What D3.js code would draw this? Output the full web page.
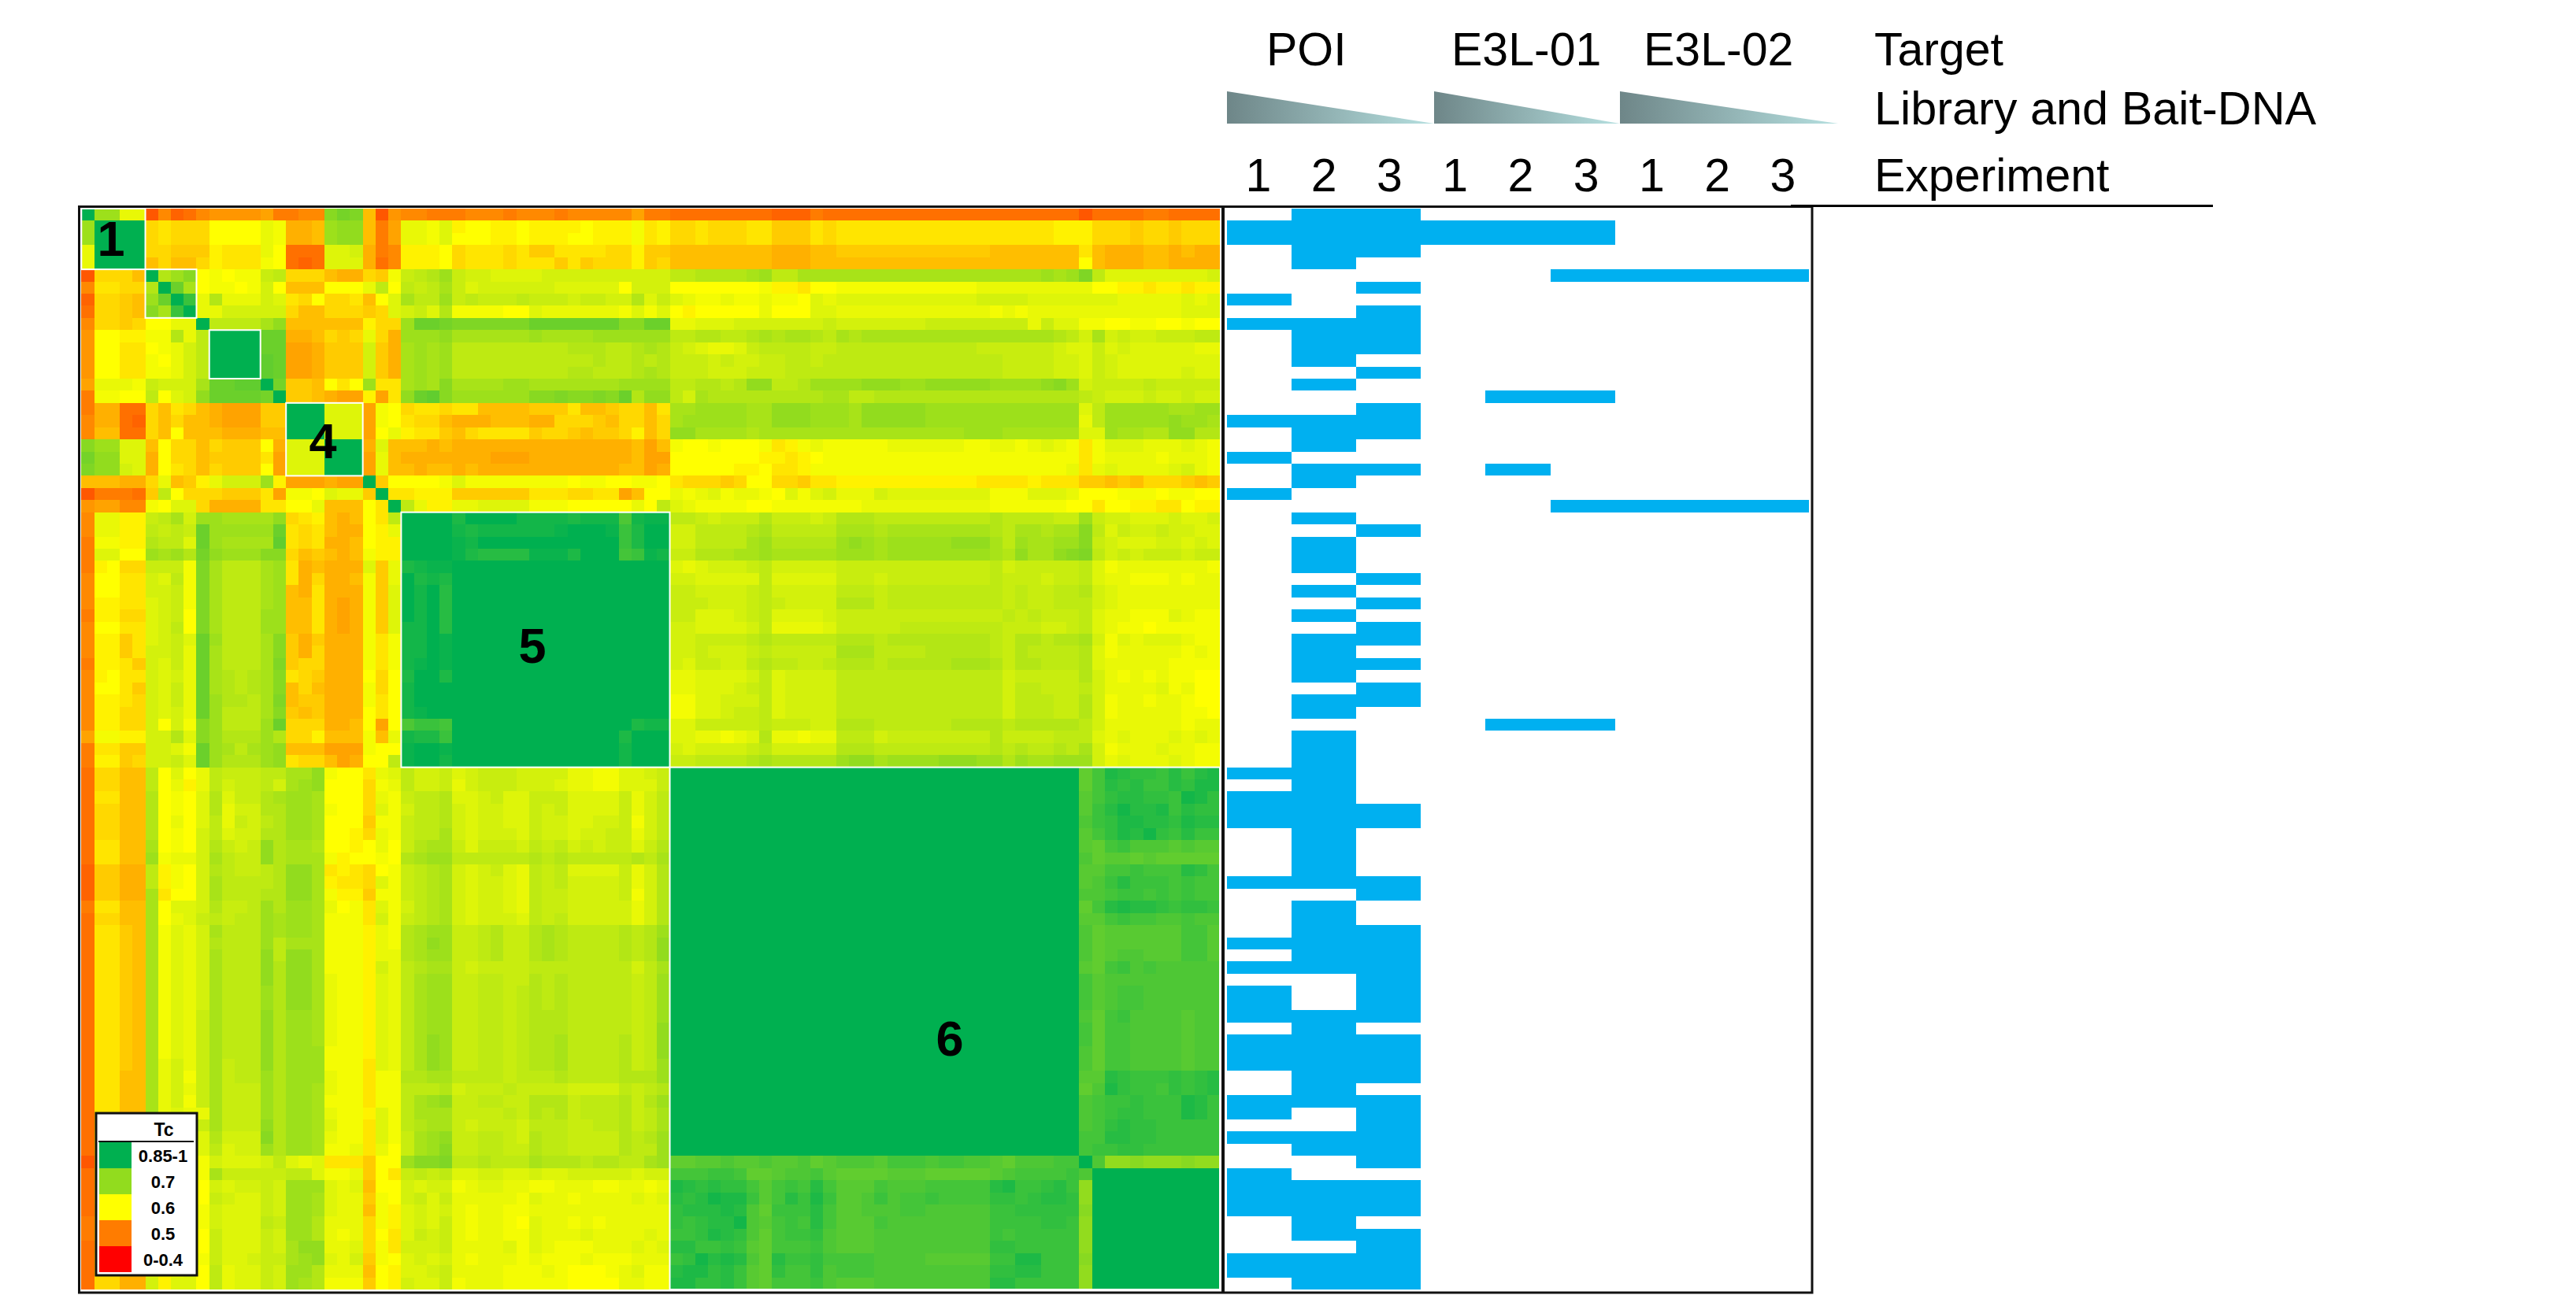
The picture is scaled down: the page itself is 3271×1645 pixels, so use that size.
<!DOCTYPE html>
<html lang="en">
<head>
    <meta charset="UTF-8">
    <script src="https://d3js.org/d3.v7.min.js"></script>
    <title>Tc heatmap with target hits</title>
    <style>
        html, body { margin: 0; padding: 0; background: #fff; }
        svg { display: block; }
        text { font-family: "Liberation Sans", Arial, sans-serif; fill: #000; }
    </style>
</head>
<body>
    <svg width="3271" height="1645"></svg>

    <script>
    // Tc values, one letter per cell, upper triangle only (the matrix is symmetric).
    // a = 0.45, b = 0.46 ... z = 0.70, A = 0.71 ... O = 0.85 and up
    const tcLetters = "abcdefghijklmnopqrstuvwxyzABCDEFGHIJKLMNO";

    // rows 0-45, each one starts on the diagonal, spaces only group the clusters
    const tcRows = [
        "Oyyrr cgde g hhhh if fgg ACB kch ggfffgg gfgggfg ggggiff eeeeeeee dddfeeee eeeeeeee eeeeeeee c eeeeffeeee",
        "OOOO mnmm m pppp rq jjkyzz kfi rrqsopp oopoooo poooqno mmnmmmnn lllnmnnn nnnnnnnn nnnnnnoo o mmmlmmlmmm",
        "OOO mnmm m pppp rq jjkyzz kfi rrqsppp oopooop poooqno mmnmmmnn lllnmnnn nnnnnnnn nnnnnnoo o mmmlmmlmmm",
        "OO mmll l onnn rp eeesst jfg ooopmnn nmnllnn nnmmoll kkkkkkkk jjjkklll llllllll lkkkkkkk n kjjjkkjkjj",
        "O kmkk m onnn qp edesss jeg ooopmnn nmnnnln lmmmolm kkkkkkkk jjjkkkkk kkkkkkkk kkkkkkkk p kjjjkkjjjj",
        "OwyA p qpqq uv mmmkjj mlq uvwyutt ssssttt ttttttt vvwwwwxy vvxxxxxx xxxxxxxx xxxxxyxy B vsssssssst",
        "ODx p qqpq tp kkkppp rvp vuvxust tttttss ssspttt pppppppq oonppqqq qqqqqqqq rrrrrrrr r ppoonoonoo",
        "OI r wrrr ts nmpmmn kps xvvyuvu uuvuuut uuttwsu srqqrqqr qqpsrsss ssssssss ttttssss s ssrrrrrsrs",
        "O r rttt tt mkkmmm lms tuswqqq qppsrrr rrrqsqs popppppr pppssrrr rrrrrrrr rqrqrrrr r rrrrrrrsss",
        "O vvvv xz kkkkkk omm yDDCBBB BBBDDDD DDDAADD rrsssttt ttttuttt ttttuuuu uuuuruss q qppqqppqpp",
        "OOOO DD jjkmlm rmj yyyzxxx xxxyxxx xyyyyyy vvwwvvwx wxxwvxwx xxxxxxxx xxxxxxwv t xtuttuuuvv",
        "OOO DD iijlll tlj xyxyvvv vvvvvvw wwvvwxw utsrrsuv vvvuuvvv vvvvvvvv uuuuuuts s ustsssssrr",
        "OO ED iijlll tlj xyxyvvv vvvvvvv vwvvwvw uuututtu uvvuvvvv vvvvvvvv vvuuuutt s utssssssss",
        "O ED iijlll tlj xyxyvvv vvvvvvw wvvvwxw uuutttuu uvvvvvvv vvvvvvvv vvuuuutt s utssssstss",
        "OC llkpnp ynn xyxAxxx xyyxxxx xxxyyyy vvwwvwzz vvwyyyyz zzyyzzzz zyyyyzAy t uuuuvuuuuu",
        "O llkjii oin zDEAyyy yyyAABA ABADwzz vtxwwwww wwwwxxvv wwwwwwww wwwwwwww v utttuttutt",
        "OOOsss iqp mnnmnnk kkkllln kklmmkn xxyyyyxx zzzyyyxz zzzzyyyy yyyyyyyy s vyyyyyxxyy",
        "OOsss iqp nmmkjjj kkkjjmm mlkmmkm xyyyyyxx zzzyyyxz zzzzyyyy yyyyyyyy r vyyyyyzyyx",
        "Osss ipr onnlkmn nnnlmml kllmokm zzxxxxwx xxxxxxxx xxxxxxxy yyxxxxxx s syxxwwzzww",
        "OOO jsk kkjkjjj jjjjjjj jjjjkik qppqpppq noqrqqqq qrrrrrrq qrrqrsrq n qsssrrrsrq",
        "OO irk jjjjjjj iiijjjj jjjjkii pppppppo onopqqqq qqqqqqqq qqqqqqqq n qrrrrqrrrq",
        "O irk kjkkjkj jjjjjjj jjjkkij pppppoop nnoqqqqq qqqqqqqq qqqqqqqr n rsrrrrstrq",
        "Olp pppqsqq qqqqqqp qqppqqp nmmmlmpp mmlnnooo oooooooo nnnnonnn l lklkmmmlkl",
        "On nooolll lllnnnm mnnikpp rqrsqrrq psqstrrr tsssssss sqqqsssr p ppqqqpqqpp",
        "O vroorrs sssqqqp pppprpv srqqqqpp qqqqqqqr rrrrrrrr rqqqqqqp p nppoonnpoo",
        "OOOOLOO OOMMMML MMMGMNN vvutuuuw uuutuwww vvvvvvvv vwvvvvuu y uttssstsst",
        "OOOMLM MMMMMNO OONILOO ttvvvvwx vvvvvxxx wxxxxxxx xwvxxwxx A vsuttuttss",
        "OONMO OOOOOOO OOOILOO ttvvvvxy wwwwwyzy xyyyyyzz zxvyxxyy A utsssttsts",
        "ONLK KKKNNNL OOOHINM uuwwwxxy xxxxxyyy xyyyyyyy yxwzxxzA B vtutuuutuu",
        "OOO OOOOOOO OOOOOOO srstttuv tttttuuu uuuuuuuu uvtuuuuu v sqrrrrrrrq",
        "OO OOOOOOO OOOOOOO ttsssssv sssssuuu tuuuuuuu uvuuutuu v srrqqqrqrr",
        "O OOOOOOO OOOOOOO uuttttuv tttttvvv uvvvvvvv vvuvuuvv w tsrrrrrrrr",
        "OOOOOOO OOOOOOO uuutttuv uttttwww uvvvvvvv vvuvuuvv v tsrrrrrrrr",
        "OOOOOO OOOOOOO uussstuv sssstuuu uuuuuuuu uuvuvuuu v srrqqqsrqq",
        "OOOOO OOOOOOO ttsssstv rrrrsuuu uuvvvvvv vvuuuttu v srqqpqqqqq",
        "OOOO OOOOOOO ttuuuuvw vvvvvwww vwwwwwww wvuwwvww x tqsrsssrqq",
        "OOO OOOOOOO ttutttuv uuuuuxxx vvvvwwww wvuwvvvv w sqrrrrrqrq",
        "OO OOOOOOO tsuuttvw vvuuvwww vwwwwwxx xwuwwvvv w srrrrrqqqq",
        "O OOOOOOO rrsssstv sttttvvv vvvvvvvv vvtuuuuu w trqrqrqqpp",
        "OOOOOOO rrssstuv sttttvvv vvvvvvvv vvtvvuuu v trrrrsqrpp",
        "OOOOOO qqsstttv sttttvvv vvvvvvvv vvtvvvuu w tqrrqrrqpp",
        "OOOOO qqsstuuv sttttvvv vvvvvvvv vvtvvvuu w tqrrrrrqqp",
        "OLMM ssuuuuuv uuuttwww vvvvvvww wwvwwwww v trrrrrrqrr",
        "OOO ssrrqrsw rrqrrvvv tuuuuuuu uwuuuuvv v srsrrrsrsr",
        "OO tsttttuv tttttwww vvvvvvvv vwvwvvwv x tqrrrsrrqq",
        "O uuvvvvwx wwwwwyzz xyyyyzzz yywyxxyy y trsrrrsrqq"
    ];

    // rows 46-77: the cluster itself is all 0.85+, these are columns 78-88 only
    const tcEdgeRows = [
        "E HLKJJIKIKL", "E HKJKIIKJLL", "F HJKKJJIMLJ", "F IKMKKLIKJJ",
        "G IJLLKKJLKK", "F HJLKMJIKII", "F EHIGGGFGFF", "G EFFEFEEEEE",
        "F FHHIHHHKJH", "F GIKIIIHIHH", "G GHIIHIHIHH", "E HKLKKJIJJI",
        "F FHIHHGGHGG", "G EFFFFFFHHF", "G EFFFFFFHHF", "G EFGGFFFHHF",
        "F EHIGHGGGGG", "H FGGGGGGGGG", "H FGHHGGGGGG", "H FGHHGGGGGG",
        "G EHIGGGGFGG", "H EHHGGGGFGG", "H EHHGGGGFGG", "G EHHGGGGFGG",
        "G EHHGGGGFGG", "F FKJIIIJIJK", "E GLJIIHJIJK", "G HIIJIIILKI",
        "G HIJJIIILKI", "G HJKJJIIIII", "H HKKJJIIIII", "H IIJJIIIIII"
    ];
    const tcRow78 = "O GzzAzzzAzz";

    // clusters that get a white box, first and last row
    const clusterBoxes = [[0, 4], [5, 8], [10, 13], [16, 21], [25, 45], [46, 88]];
    const clusterNames = ["1", "4", "5", "6"];
    const clusterNameSpots = [[141, 325], [410, 582], [676, 842], [1206, 1341]];

    // which rows are hits in each experiment
    const poi1 = [1,2,7,9,17,20,23,46,48,49,50,55,60,62,64,65,66,68,69,70,73,74,76,79,80,81,82,86,87];
    const poi2 = [0,1,2,3,4,9,10,11,12,14,17,18,19,21,22,25,27,28,29,31,33,35,36,37,38,40,41,43,44,45,46,47,48,49,50,51,52,53,54,55,57,58,59,60,61,62,66,67,68,69,70,71,72,73,76,77,80,81,82,83,84,86,87,88];
    const poi3 = [0,1,2,3,6,8,9,10,11,13,16,17,18,21,26,30,32,34,35,37,39,40,49,50,55,56,59,60,61,62,63,64,65,66,68,69,70,71,73,74,75,76,77,78,80,81,82,84,85,86,87,88];
    const e01a = [1,2];
    const e01b = [1,2,15,21,42];
    const e01c = [1,2,5,15,24,42];
    const e02a = [5,24];
    const e02b = [5,24];
    const e02c = [5,24];
    const experiments = [poi1, poi2, poi3, e01a, e01b, e01c, e02a, e02b, e02c];
    const experimentLabels = ["1", "2", "3", "1", "2", "3", "1", "2", "3"];

    const targets = ["POI", "E3L-01", "E3L-02"];
    const targetSpots = [1608, 1843, 2087];

    const legendLabels = ["0.85-1", "0.7", "0.6", "0.5", "0-0.4"];
    const legendColors = ["#00B050", "#92DC1E", "#FFFF00", "#FF7C00", "#FF0000"];

    const nRows = 89;

    function letterToTc(ch) {
        return 0.45 + tcLetters.indexOf(ch) * 0.01;
    }

    const rows = tcRows.map(s => s.replace(/ /g, ""));
    const edge = tcEdgeRows.map(s => s.replace(/ /g, ""));
    const row78 = tcRow78.replace(/ /g, "");
    rows.forEach((s, r) => { if (s.length !== nRows - r) throw new Error("row " + r + " has " + s.length); });

    function tcAt(a, b) {
        const r = Math.min(a, b), c = Math.max(a, b);
        if (r < 46) return letterToTc(rows[r][c - r]);
        if (r < 78) return c < 78 ? 0.85 : letterToTc(edge[r - 46][c - 78]);
        if (r === 78) return letterToTc(row78[c - 78]);
        return 0.85;
    }

    const cells = [];
    d3.range(nRows).forEach(r => d3.range(nRows).forEach(c => cells.push({ r: r, c: c, tc: tcAt(r, c) })));

    const svg = d3.select("svg");

    // scales
    const xCell = d3.scaleBand().domain(d3.range(nRows)).range([103.3, 1549]);
    const yCell = d3.scaleBand().domain(d3.range(nRows)).range([265, 1638]);
    const xHit = d3.scaleBand().domain(d3.range(9)).range([1558, 2297]);
    const xExp = d3.scalePoint().domain(d3.range(9)).range([1598, 2264]);
    const color = d3.scaleLinear()
                    .domain([0.4, 0.5, 0.6, 0.7, 0.85])
                    .range(["#FF0000", "#FF7C00", "#FFFF00", "#92DC1E", "#00B050"])
                    .clamp(true);

    // heatmap
    svg.append("g").attr("shape-rendering", "crispEdges")
        .selectAll("rect")
        .data(cells)
        .enter()
        .append("rect")
        .attr("x", d => xCell(d.c))
        .attr("y", d => yCell(d.r))
        .attr("width", xCell.bandwidth())
        .attr("height", yCell.bandwidth())
        .attr("fill", d => color(d.tc));

    // white cluster boxes
    svg.append("g").selectAll("rect")
        .data(clusterBoxes)
        .enter()
        .append("rect")
        .attr("x", d => xCell(d[0]))
        .attr("y", d => yCell(d[0]))
        .attr("width", d => xCell(d[1]) + xCell.bandwidth() - xCell(d[0]))
        .attr("height", d => yCell(d[1]) + yCell.bandwidth() - yCell(d[0]))
        .attr("fill", "none")
        .attr("stroke", "#fff")
        .attr("stroke-width", 2);

    svg.append("g").selectAll("text")
        .data(clusterNames)
        .enter()
        .append("text")
        .attr("x", (d, i) => clusterNameSpots[i][0])
        .attr("y", (d, i) => clusterNameSpots[i][1])
        .attr("text-anchor", "middle")
        .attr("font-weight", "bold")
        .attr("font-size", 63)
        .text(d => d);

    // hit panel
    const hits = [];
    experiments.forEach((list, e) => list.forEach(r => hits.push({ e: e, r: r })));
    svg.append("g").attr("shape-rendering", "crispEdges")
        .selectAll("rect")
        .data(hits)
        .enter()
        .append("rect")
        .attr("x", d => xHit(d.e))
        .attr("y", d => yCell(d.r))
        .attr("width", xHit.bandwidth())
        .attr("height", yCell.bandwidth())
        .attr("fill", "#00B0F0");

    // frames
    const frames = svg.append("g").attr("fill", "none").attr("stroke", "#111");
    frames.append("rect").attr("x", 100.5).attr("y", 262.5).attr("width", 2200.5).attr("height", 1379.5).attr("stroke-width", 3);
    frames.append("line").attr("x1", 1553).attr("x2", 1553).attr("y1", 262).attr("y2", 1642).attr("stroke-width", 4);
    frames.append("line").attr("x1", 2274).attr("x2", 2810).attr("y1", 261.5).attr("y2", 261.5).attr("stroke-width", 3).attr("stroke", "#000");

    // wedges, library and bait going down
    const grad = svg.append("defs").append("linearGradient").attr("id", "wedge");
    grad.append("stop").attr("offset", "0%").attr("stop-color", "#6E8688");
    grad.append("stop").attr("offset", "100%").attr("stop-color", "#B6E0E0");
    const wedgeEdges = [[1558, 1821], [1821, 2057], [2057, 2334]];
    svg.append("g").selectAll("path")
        .data(wedgeEdges)
        .enter()
        .append("path")
        .attr("d", d => d3.line()([[d[0], 116], [d[1], 157], [d[0], 157]]) + "Z")
        .attr("fill", "url(#wedge)");

    // header text
    const head = svg.append("g").attr("font-size", 59);
    head.selectAll(".target")
        .data(targets)
        .enter()
        .append("text")
        .attr("class", "target")
        .attr("x", (d, i) => targetSpots[i])
        .attr("y", 83)
        .text(d => d);
    head.selectAll(".exp")
        .data(experimentLabels)
        .enter()
        .append("text")
        .attr("class", "exp")
        .attr("x", (d, i) => xExp(i))
        .attr("y", 243)
        .attr("text-anchor", "middle")
        .text(d => d);
    head.append("text").attr("x", 2380).attr("y", 83).text("Target");
    head.append("text").attr("x", 2380).attr("y", 158).attr("font-size", 59.4).text("Library and Bait-DNA");
    head.append("text").attr("x", 2380).attr("y", 243).text("Experiment");

    // legend
    const legend = svg.append("g");
    legend.append("rect").attr("x", 122).attr("y", 1414).attr("width", 128).attr("height", 206)
        .attr("fill", "#fff").attr("stroke", "#111").attr("stroke-width", 3);
    legend.append("line").attr("x1", 125).attr("x2", 246).attr("y1", 1450).attr("y2", 1450)
        .attr("stroke", "#111").attr("stroke-width", 2);
    legend.append("text").attr("x", 208).attr("y", 1443).attr("text-anchor", "middle")
        .attr("font-weight", "bold").attr("font-size", 23).text("Tc");
    const yLegend = d3.scaleBand().domain(legendLabels).range([1451, 1616]);
    legend.selectAll(".swatch")
        .data(legendLabels)
        .enter()
        .append("rect")
        .attr("class", "swatch")
        .attr("x", 126)
        .attr("y", d => yLegend(d))
        .attr("width", 41)
        .attr("height", yLegend.bandwidth())
        .attr("fill", (d, i) => legendColors[i]);
    legend.selectAll(".lab")
        .data(legendLabels)
        .enter()
        .append("text")
        .attr("class", "lab")
        .attr("x", 207)
        .attr("y", d => yLegend(d) + 25)
        .attr("text-anchor", "middle")
        .attr("font-weight", "bold")
        .attr("font-size", 22)
        .text(d => d);
    </script>
</body>
</html>
